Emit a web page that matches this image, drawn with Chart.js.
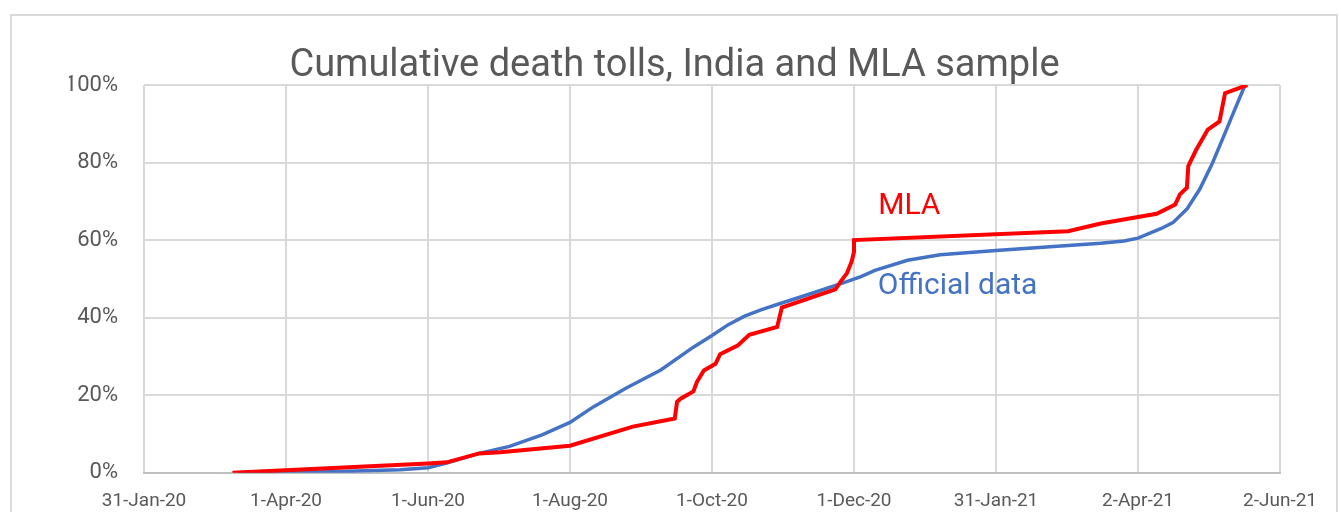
<!DOCTYPE html>
<html><head><meta charset="utf-8">
<script src="https://cdn.jsdelivr.net/npm/chart.js@4/dist/chart.umd.min.js"></script>
<style>html,body{margin:0;padding:0;background:#fff;}#wrap{width:1341px;height:512px;}</style>
</head><body><div id="wrap"><canvas id="c" width="1341" height="512"></canvas></div>
<script>
// Data: x values are days since 31-Jan-2020, y values are cumulative share of deaths (%)
const chartTitle = 'Cumulative death tolls, India and MLA sample';
const seriesNames = ['MLA', 'Official data'];
const xTickLabels = ['31-Jan-20','1-Apr-20','1-Jun-20','1-Aug-20','1-Oct-20','1-Dec-20','31-Jan-21','2-Apr-21','2-Jun-21'];
const yTickLabels = ['0%','20%','40%','60%','80%','100%'];
const mlaDays = [38, 122, 130, 144, 153, 183, 210, 228, 229, 230.5, 236, 237.5, 240.5, 245.5, 247.5, 255, 260, 272, 274, 297, 299.5, 302, 304, 305, 305, 397, 411, 435, 443, 445, 448, 448.6, 452, 457, 462, 464.4, 474];
const mlaPct  = [0, 2.4, 2.7, 5.0, 5.3, 7.0, 11.9, 14.0, 18.3, 19.1, 21.0, 23.4, 26.4, 28.1, 30.6, 32.8, 35.6, 37.6, 42.6, 47.3, 49.5, 51.5, 54.5, 57.0, 60.0, 62.3, 64.3, 66.8, 69.2, 71.8, 73.5, 79.1, 83.3, 88.5, 90.6, 97.9, 100];
const officialDays = [40, 61, 80, 95, 110, 122, 130, 144, 157, 171, 183, 193, 207, 222, 236, 244, 251, 258, 265, 272, 286, 300, 308, 314, 328, 342, 366, 397, 411, 421, 427, 437, 442, 448, 453.5, 459, 465, 468.5, 473];
const officialPct  = [0, 0.1, 0.3, 0.5, 0.8, 1.3, 2.5, 5.0, 6.8, 9.8, 13.0, 17.0, 21.8, 26.5, 32.4, 35.4, 38.2, 40.4, 42.0, 43.4, 46.1, 48.9, 50.6, 52.2, 54.8, 56.2, 57.3, 58.6, 59.2, 59.8, 60.5, 63.0, 64.5, 68.0, 73.1, 79.9, 88.5, 93.6, 100];

const FONT = 'Roboto';
const toPoints = (xs, ys) => xs.map((x, i) => ({x: x, y: ys[i]}));

const framePlugin = {
  id: 'frame',
  beforeDraw(chart) {
    const ctx = chart.ctx;
    ctx.save();
    ctx.fillStyle = '#ffffff';
    ctx.fillRect(0, 0, chart.width, chart.height);
    ctx.strokeStyle = '#D9D9D9';
    ctx.lineWidth = 2;
    ctx.strokeRect(11, 15, 1326, 520);
    ctx.restore();
  }
};

const seriesLabelPlugin = {
  id: 'seriesLabels',
  afterDatasetsDraw(chart) {
    const ctx = chart.ctx;
    const xs = chart.scales.x, ys = chart.scales.y;
    const anchors = [{x: 315.4, y: 66.8, color: '#FF0000'}, {x: 315.2, y: 46.0, color: '#4472C4'}];
    ctx.save();
    ctx.font = '30px ' + FONT;
    ctx.textAlign = 'left';
    ctx.textBaseline = 'alphabetic';
    seriesNames.forEach((name, i) => {
      ctx.fillStyle = anchors[i].color;
      ctx.fillText(name, xs.getPixelForValue(anchors[i].x), ys.getPixelForValue(anchors[i].y));
    });
    ctx.restore();
  }
};

new Chart(document.getElementById('c'), {
  type: 'line',
  data: {
    datasets: [
      {label: seriesNames[0], data: toPoints(mlaDays, mlaPct), borderColor: '#FF0000', borderWidth: 4, pointRadius: 0, tension: 0, fill: false},
      {label: seriesNames[1], data: toPoints(officialDays, officialPct), borderColor: '#4472C4', borderWidth: 3.5, pointRadius: 0, tension: 0, fill: false}
    ]
  },
  options: {
    responsive: false,
    animation: false,
    devicePixelRatio: 1,
    layout: {padding: {left: 69, right: 61, top: 0, bottom: 0}},
    plugins: {
      legend: {display: false},
      tooltip: {enabled: false},
      title: {display: true, text: chartTitle, color: '#595959', font: {family: FONT, size: 38, weight: 'normal', lineHeight: 1.0}, padding: {top: 47, bottom: 0}}
    },
    scales: {
      x: {
        type: 'linear', min: 0, max: 488,
        afterFit: s => { s.height = 38; },
        afterBuildTicks: s => { s.ticks = xTickLabels.map((l, i) => ({value: i * 61})); },
        ticks: {callback: (v) => xTickLabels[Math.round(v / 61)], color: '#595959', font: {family: FONT, size: 19}, padding: 17, maxRotation: 0, autoSkip: false},
        grid: {color: '#D9D9D9', lineWidth: 2, drawTicks: false},
        border: {color: '#BFBFBF', width: 2}
      },
      y: {
        min: 0, max: 100,
        afterFit: s => { s.width = 75; },
        ticks: {stepSize: 20, callback: (v) => yTickLabels[Math.round(v / 20)], color: '#595959', font: {family: FONT, size: 22}, padding: 26},
        grid: {color: '#D9D9D9', lineWidth: 2, drawTicks: false},
        border: {display: false}
      }
    }
  },
  plugins: [framePlugin, seriesLabelPlugin]
});
</script></body></html>
